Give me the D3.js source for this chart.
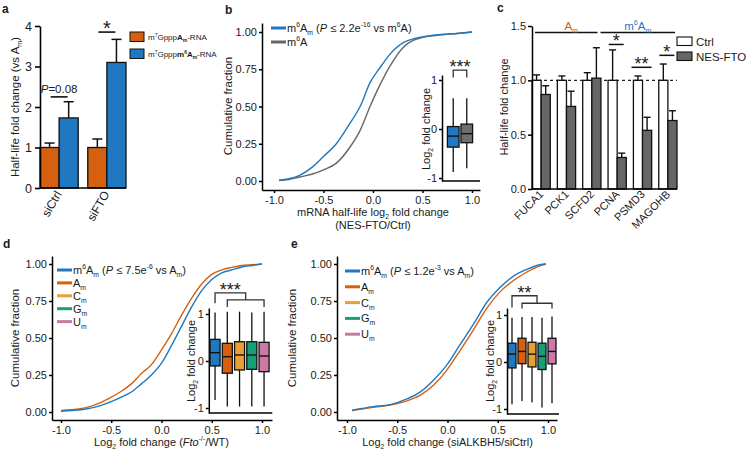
<!DOCTYPE html>
<html><head><meta charset="utf-8">
<script src="https://cdn.jsdelivr.net/npm/d3@7"></script>
<style>
body{margin:0;background:#fff}
svg{display:block}
text{font-family:"Liberation Sans",Arial,Helvetica,sans-serif;fill:#1a1a1a}
</style>
</head><body>
<svg id="fig" width="750" height="454"></svg>
<script>
// ---------------- DATA ----------------
// Panel a
const aCategories = ["siCtrl", "siFTO"];
const aAm = [1.0, 1.0];
const aAmErr = [0.11, 0.21];
const aM6Am = [1.73, 3.1];
const aM6AmErr = [0.4, 0.57];
const aTicks = [0, 1, 2, 3, 4];
const aSigLabels = ["P=0.08", "*"];
const aSigY = [2.25, 3.85];

// Panel b (cumulative fraction curves)
const bX     = [-0.95, -0.85, -0.74, -0.62, -0.5, -0.37, -0.23, -0.13, -0.03, 0.07, 0.17, 0.31, 0.41, 0.48, 0.61, 0.71, 0.85, 1.0];
const bM6Am  = [0.005, 0.015, 0.038, 0.09, 0.165, 0.25, 0.39, 0.5, 0.66, 0.76, 0.85, 0.93, 0.955, 0.965, 0.978, 0.985, 0.99, 1.0];
const bM6A   = [0.003, 0.01, 0.027, 0.045, 0.075, 0.12, 0.23, 0.34, 0.5, 0.645, 0.77, 0.9, 0.945, 0.96, 0.975, 0.982, 0.99, 1.0];
const bGroups = ["m6Am", "m6A"];
const bLo  = [-0.88, -0.8];
const bQ1  = [-0.37, -0.28];
const bMed = [-0.145, -0.095];
const bQ3  = [0.05, 0.1];
const bHi  = [0.63, 0.63];

const cdfTicksX = [-1, -0.5, 0, 0.5, 1];
const cdfTicksY = [0, 0.25, 0.5, 0.75, 1];
const insetTicks = [-1, 0, 1];

// Panel c
const cGenes = ["FUCA1", "PCK1", "SCFD2", "PCNA", "PSMD3", "MAGOHB"];
const cCtrl = [1, 1, 1, 1, 1, 1];
const cCtrlErr = [0.05, 0.04, 0.07, 0.28, 0.04, 0.15];
const cNes = [0.87, 0.76, 1.02, 0.29, 0.54, 0.63];
const cNesErr = [0.08, 0.14, 0.28, 0.04, 0.12, 0.09];
const cTicks = [0, 0.5, 1, 1.5];
const cSigGenes = ["PCNA", "PSMD3", "MAGOHB"];
const cSigLabels = ["*", "**", "*"];
const cSigY = [1.33, 1.12, 1.23];

// Panel d
const dX    = [-1.0, -0.9, -0.75, -0.6, -0.5, -0.4, -0.3, -0.2, -0.1, 0.0, 0.1, 0.2, 0.3, 0.4, 0.5, 0.6, 0.7, 0.8, 0.9, 1.0];
const dM6Am = [0.005, 0.01, 0.02, 0.045, 0.07, 0.1, 0.135, 0.19, 0.25, 0.33, 0.45, 0.58, 0.71, 0.82, 0.895, 0.94, 0.96, 0.98, 0.99, 1.0];
const dAm   = [0.01, 0.015, 0.03, 0.065, 0.1, 0.14, 0.19, 0.26, 0.32, 0.42, 0.53, 0.655, 0.77, 0.865, 0.93, 0.96, 0.977, 0.99, 0.995, 1.0];
const boxGroups = ["m6Am", "Am", "Cm", "Gm", "Um"];
const dLo  = [-0.83, -0.97, -0.97, -0.97, -0.97];
const dQ1  = [-0.106, -0.26, -0.19, -0.177, -0.227];
const dMed = [0.177, 0.092, 0.128, 0.128, 0.106];
const dQ3  = [0.46, 0.376, 0.41, 0.41, 0.397];
const dHi  = [1.03, 1.05, 1.05, 1.03, 1.05];

// Panel e
const eX    = [-0.95, -0.74, -0.57, -0.41, -0.27, -0.14, -0.01, 0.12, 0.26, 0.39, 0.52, 0.66, 0.79, 0.92, 0.98];
const eM6Am = [0.012, 0.036, 0.05, 0.087, 0.136, 0.215, 0.315, 0.45, 0.595, 0.74, 0.84, 0.92, 0.964, 0.995, 1.0];
const eAm   = [0.01, 0.031, 0.047, 0.074, 0.114, 0.18, 0.28, 0.41, 0.557, 0.70, 0.81, 0.89, 0.946, 0.987, 1.0];
const eLo  = [-0.9, -0.83, -0.86, -0.97, -0.88];
const eQ1  = [-0.126, -0.035, -0.105, -0.16, -0.04];
const eMed = [0.168, 0.225, 0.168, 0.12, 0.225];
const eQ3  = [0.40, 0.505, 0.42, 0.40, 0.505];
const eHi  = [0.94, 0.96, 0.96, 0.94, 0.97];

// ---------------- STYLE ----------------
const FONT = '"Liberation Sans", Arial, Helvetica, sans-serif';
const COL = {m6Am: "#1f78c1", Am: "#d5600f", Cm: "#e8a033", Gm: "#16a077", Um: "#cc79a7", gray: "#666666"};
const boxColors = [COL.m6Am, COL.Am, COL.Cm, COL.Gm, COL.Um];
const svg = d3.select("#fig");

const hy = f => d => d3.format(f)(d).replace("\u2212", "-");
function anchored(v0, p0, v1, p1, pa, pb) {
  const k = (p1 - p0) / (v1 - v0);
  return d3.scaleLinear().domain([v0 + (pa - p0) / k, v0 + (pb - p0) / k]).range([pa, pb]);
}
function styleAxis(sel, fs, sw) {
  sel.attr("font-family", FONT).attr("font-size", fs);
  sel.selectAll(".domain").attr("stroke", "#000").attr("stroke-width", sw);
  sel.selectAll(".tick line").attr("stroke", "#000").attr("stroke-width", sw);
  sel.selectAll(".tick text").attr("fill", "#1a1a1a");
}
function rich(g, x, y, fs, segs, anchor, transform) {
  const t = g.append("text").attr("x", x).attr("y", y).attr("font-size", fs)
    .attr("text-anchor", anchor || "start");
  if (transform) t.attr("transform", transform);
  let off = 0;
  segs.forEach(s => {
    const o = typeof s === "string" ? {t: s} : s;
    const target = o.sup ? -0.42 * fs : o.sub ? 0.28 * fs : 0;
    const ts = t.append("tspan").text(o.t).attr("dy", target - off);
    off = target;
    if (o.sup || o.sub) ts.attr("font-size", fs * 0.62);
    if (o.i) ts.attr("font-style", "italic");
    if (o.b) ts.attr("font-weight", "bold");
    ts.style("fill", o.fill || "#1a1a1a");
  });
  return t;
}
const M6AM = [{t: "m"}, {t: "6", sup: 1}, {t: "A"}, {t: "m", sub: 1}];
function panelLabel(t, x, y) {
  svg.append("text").attr("x", x).attr("y", y).attr("font-size", 12).attr("font-weight", "bold").text(t);
}
function drawBoxes(g, xs, ys, groups, lo, q1, med, q3, hi, colors) {
  const bw = xs.bandwidth();
  groups.forEach((k, i) => {
    const cx = xs(k) + bw / 2;
    g.append("line").attr("x1", cx).attr("x2", cx).attr("y1", ys(lo[i])).attr("y2", ys(hi[i]))
      .attr("stroke", "#111").attr("stroke-width", 1.3);
    g.append("rect").attr("x", xs(k)).attr("width", bw).attr("y", ys(q3[i]))
      .attr("height", ys(q1[i]) - ys(q3[i])).attr("fill", colors[i]).attr("stroke", "#111").attr("stroke-width", 1.3);
    g.append("line").attr("x1", xs(k)).attr("x2", xs(k) + bw).attr("y1", ys(med[i])).attr("y2", ys(med[i]))
      .attr("stroke", "#111").attr("stroke-width", 1.4);
  });
}
function cdfAxes(g, xs, ys, xAxisY, yAxisX) {
  g.append("g").attr("transform", `translate(0,${xAxisY})`)
    .call(d3.axisBottom(xs).tickValues(cdfTicksX).tickFormat(hy(".1f")).tickSize(3).tickSizeOuter(0).tickPadding(3))
    .call(s => styleAxis(s, 11, 1.5));
  g.append("g").attr("transform", `translate(${yAxisX},0)`)
    .call(d3.axisLeft(ys).tickValues(cdfTicksY).tickFormat(hy(".2f")).tickSize(3).tickSizeOuter(0).tickPadding(2))
    .call(s => styleAxis(s, 11, 1.5));
}
function insetAxes(g, xs, ys, fs) {
  const r = xs.range();
  g.append("g").attr("transform", `translate(${r[0]},0)`)
    .call(d3.axisLeft(ys).tickValues(insetTicks).tickFormat(hy("d")).tickSize(3).tickSizeOuter(0).tickPadding(2))
    .call(s => styleAxis(s, fs, 1.5));
  const yb = ys.range()[0];
  g.append("line").attr("x1", r[0]).attr("x2", r[1] + 2).attr("y1", yb).attr("y2", yb)
    .attr("stroke", "#000").attr("stroke-width", 1.5);
}
function bracket2(g, xs, ys, a, b, level, legBottom, label) {
  const x1 = xs(a) + xs.bandwidth() / 2, x2 = xs(b) + xs.bandwidth() / 2;
  g.append("path").attr("d", `M${x1},${ys(legBottom)}V${ys(level)}H${x2}V${ys(legBottom)}`)
    .attr("fill", "none").attr("stroke", "#333").attr("stroke-width", 1.3);
  g.append("text").attr("x", (x1 + x2) / 2).attr("y", ys(level) + 3).attr("text-anchor", "middle")
    .attr("font-size", 18).text(label);
}
function bracketNested(g, xs, ys, first, from, to, l1, leg1, l2, leg2, label) {
  const c = k => xs(k) + xs.bandwidth() / 2;
  const xm = (c(from) + c(to)) / 2;
  g.append("path").attr("d", `M${c(from)},${ys(leg2)}V${ys(l2)}H${c(to)}V${ys(leg2)}`)
    .attr("fill", "none").attr("stroke", "#333").attr("stroke-width", 1.3);
  g.append("path").attr("d", `M${c(first)},${ys(leg1)}V${ys(l1)}H${xm}V${ys(l2)}`)
    .attr("fill", "none").attr("stroke", "#333").attr("stroke-width", 1.3);
  g.append("text").attr("x", (c(first) + xm) / 2).attr("y", ys(l1) + 3).attr("text-anchor", "middle")
    .attr("font-size", 18).text(label);
}

// ---------------- PANEL A ----------------
(function () {
  const g = svg.append("g");
  panelLabel("a", 2, 13);
  const ys = d3.scaleLinear().domain([0, 4]).range([188, 26]);
  const xs = d3.scaleBand().domain(aCategories).range([40, 126]).paddingInner(0.2);
  const bw = xs.bandwidth() / 2;
  const series = [{v: aAm, e: aAmErr, c: COL.Am, o: 0}, {v: aM6Am, e: aM6AmErr, c: COL.m6Am, o: 1}];
  series.forEach(s => {
    aCategories.forEach((cat, i) => {
      const x = xs(cat) + s.o * bw, cx = x + bw / 2;
      const top = ys(s.v[i] + s.e[i]);
      g.append("line").attr("x1", cx).attr("x2", cx).attr("y1", ys(s.v[i])).attr("y2", top).attr("stroke", "#111").attr("stroke-width", 1.5);
      g.append("line").attr("x1", cx - 5).attr("x2", cx + 5).attr("y1", top).attr("y2", top).attr("stroke", "#111").attr("stroke-width", 1.5);
      g.append("rect").attr("x", x).attr("width", bw).attr("y", ys(s.v[i])).attr("height", ys(0) - ys(s.v[i]))
        .attr("fill", s.c).attr("stroke", "#111").attr("stroke-width", 1.3);
    });
  });
  g.append("g").attr("transform", "translate(40,0)")
    .call(d3.axisLeft(ys).tickValues(aTicks).tickFormat(d3.format("d")).tickSize(5).tickSizeOuter(0).tickPadding(3))
    .call(s => styleAxis(s, 12.5, 1.6));
  g.append("line").attr("x1", 40).attr("x2", 126).attr("y1", 188).attr("y2", 188).attr("stroke", "#000").attr("stroke-width", 1.6);
  aCategories.forEach(cat => {
    g.append("text").attr("text-anchor", "end").attr("font-size", 12)
      .attr("transform", `translate(${xs(cat) + bw + 3},194) rotate(-60)`).text(cat);
  });
  rich(g, 0, 0, 11.5, ["Half-life fold change (vs A", {t: "m", sub: 1}, ")"], "middle", "translate(19,107) rotate(-90)");
  // significance
  aCategories.forEach((cat, i) => {
    const cx = xs(cat) + bw, y = ys(aSigY[i]);
    g.append("line").attr("x1", cx - 8.5).attr("x2", cx + 8.5).attr("y1", y).attr("y2", y).attr("stroke", "#111").attr("stroke-width", 1.6);
  });
  rich(g, xs(aCategories[0]) + bw, ys(aSigY[0]) - 4, 11.5, [{t: "P", i: 1}, "=0.08"], "middle");
  g.append("text").attr("x", xs(aCategories[1]) + bw).attr("y", ys(aSigY[1]) + 3).attr("text-anchor", "middle").attr("font-size", 20).text(aSigLabels[1]);
  // legend
  g.append("rect").attr("x", 130).attr("y", 32).attr("width", 14).attr("height", 9.5).attr("fill", COL.Am).attr("stroke", "#111").attr("stroke-width", 1);
  g.append("rect").attr("x", 130).attr("y", 49).attr("width", 14).attr("height", 9.5).attr("fill", COL.m6Am).attr("stroke", "#111").attr("stroke-width", 1);
  rich(g, 148, 40, 8, ["m", {t: "7", sup: 1}, "Gppp", {t: "A", b: 1}, {t: "m", sub: 1, b: 1}, "-RNA"]);
  rich(g, 148, 57, 8, ["m", {t: "7", sup: 1}, "Gppp", {t: "m", b: 1}, {t: "6", sup: 1, b: 1}, {t: "A", b: 1}, {t: "m", sub: 1, b: 1}, "-RNA"]);
})();

// ---------------- PANEL B ----------------
(function () {
  const g = svg.append("g");
  panelLabel("b", 225, 14);
  const xs = anchored(-1, 274, 1, 472, 262, 480);
  const ys = anchored(0, 181, 1, 32, 190, 23);
  cdfAxes(g, xs, ys, 190, 262);
  const line = d3.line().x((d, i) => xs(bX[i])).y(d => ys(d)).curve(d3.curveMonotoneX);
  g.append("path").attr("d", line(bM6A)).attr("fill", "none").attr("stroke", COL.gray).attr("stroke-width", 1.4);
  g.append("path").attr("d", line(bM6Am)).attr("fill", "none").attr("stroke", COL.m6Am).attr("stroke-width", 1.4);
  // legend
  g.append("line").attr("x1", 271).attr("x2", 286).attr("y1", 28).attr("y2", 28).attr("stroke", COL.m6Am).attr("stroke-width", 3);
  g.append("line").attr("x1", 271).attr("x2", 286).attr("y1", 42).attr("y2", 42).attr("stroke", COL.gray).attr("stroke-width", 3);
  rich(g, 287, 32, 11, [...M6AM, " (", {t: "P", i: 1}, " \u2264 2.2e", {t: "-16", sup: 1}, " vs m", {t: "6", sup: 1}, "A)"]);
  rich(g, 287, 46, 11, ["m", {t: "6", sup: 1}, "A"]);
  // titles
  rich(g, xs(0), 216, 11, ["mRNA half-life log", {t: "2", sub: 1}, " fold change"], "middle");
  g.append("text").attr("x", xs(0)).attr("y", 229).attr("text-anchor", "middle").attr("font-size", 11).text("(NES-FTO/Ctrl)");
  g.append("text").attr("transform", "translate(232,106) rotate(-90)").attr("text-anchor", "middle").attr("font-size", 11.5).text("Cumulative fraction");
  // inset
  const yi = anchored(0, 129, 1, 80, 181, 75);
  const xi = d3.scaleBand().domain(bGroups).range([442, 478]).paddingInner(0.14).paddingOuter(0.4);
  insetAxes(g, xi, yi, 11);
  drawBoxes(g, xi, yi, bGroups, bLo, bQ1, bMed, bQ3, bHi, [COL.m6Am, "#6e6e6e"]);
  bracket2(g, xi, yi, bGroups[0], bGroups[1], 1.2, 1.05, "***");
  rich(g, 0, 0, 11, ["Log", {t: "2", sub: 1}, " fold change"], "middle", "translate(430,129) rotate(-90)");
})();

// ---------------- PANEL C ----------------
(function () {
  const g = svg.append("g");
  panelLabel("c", 497, 12);
  const ys = d3.scaleLinear().domain([0, 1.5]).range([189, 26]);
  const xs = d3.scaleBand().domain(cGenes).range([532, 677]).paddingInner(0.28);
  const bw = xs.bandwidth() / 2;
  g.append("line").attr("x1", 532).attr("x2", 677).attr("y1", ys(1)).attr("y2", ys(1))
    .attr("stroke", "#222").attr("stroke-width", 1.2).attr("stroke-dasharray", "3,3");
  const series = [{v: cCtrl, e: cCtrlErr, c: "#ffffff", o: 0}, {v: cNes, e: cNesErr, c: "#666666", o: 1}];
  series.forEach(s => {
    cGenes.forEach((gn, i) => {
      const x = xs(gn) + s.o * bw, cx = x + bw / 2;
      const top = ys(s.v[i] + s.e[i]);
      g.append("line").attr("x1", cx).attr("x2", cx).attr("y1", ys(s.v[i])).attr("y2", top).attr("stroke", "#111").attr("stroke-width", 1.4);
      g.append("line").attr("x1", cx - 3.5).attr("x2", cx + 3.5).attr("y1", top).attr("y2", top).attr("stroke", "#111").attr("stroke-width", 1.4);
      g.append("rect").attr("x", x).attr("width", bw).attr("y", ys(s.v[i])).attr("height", ys(0) - ys(s.v[i]))
        .attr("fill", s.c).attr("stroke", "#111").attr("stroke-width", 1.3);
    });
  });
  g.append("g").attr("transform", "translate(532,0)")
    .call(d3.axisLeft(ys).tickValues(cTicks).tickFormat(d3.format(".1f")).tickSize(4).tickSizeOuter(0).tickPadding(2))
    .call(s => styleAxis(s, 11, 1.5));
  g.append("line").attr("x1", 532).attr("x2", 677).attr("y1", 189).attr("y2", 189).attr("stroke", "#000").attr("stroke-width", 1.5);
  cGenes.forEach(gn => {
    g.append("text").attr("text-anchor", "end").attr("font-size", 11)
      .attr("transform", `translate(${xs(gn) + bw + 3},195) rotate(-45)`).text(gn);
  });
  g.append("text").attr("transform", "translate(508,107) rotate(-90)").attr("text-anchor", "middle").attr("font-size", 11).text("Half-life fold change");
  // group bars
  const mid = (xs("SCFD2") + 2 * bw + xs("PCNA")) / 2;
  const l1 = [xs("FUCA1") + 3, mid - 7], l2 = [mid - 4, xs("MAGOHB") + 2 * bw - 2];
  const gy = ys(1.44);
  [l1, l2].forEach(l => g.append("line").attr("x1", l[0]).attr("x2", l[1]).attr("y1", gy).attr("y2", gy).attr("stroke", "#111").attr("stroke-width", 1.4));
  rich(g, (l1[0] + l1[1]) / 2 + 5, gy - 3, 11.5, [{t: "A", fill: COL.Am}, {t: "m", sub: 1, fill: COL.Am}], "middle");
  rich(g, (l2[0] + l2[1]) / 2, gy - 3, 11.5, [{t: "m", fill: COL.m6Am}, {t: "6", sup: 1, fill: COL.m6Am}, {t: "A", fill: COL.m6Am}, {t: "m", sub: 1, fill: COL.m6Am}], "middle");
  // significance
  cSigGenes.forEach((gn, i) => {
    const cx = xs(gn) + bw - 1, y = ys(cSigY[i]);
    const hw = cSigLabels[i].length > 1 ? 10 : 7.5;
    g.append("line").attr("x1", cx - hw).attr("x2", cx + hw).attr("y1", y).attr("y2", y).attr("stroke", "#111").attr("stroke-width", 1.5);
    g.append("text").attr("x", cx).attr("y", y + 3).attr("text-anchor", "middle").attr("font-size", 18).text(cSigLabels[i]);
  });
  // legend
  g.append("rect").attr("x", 677).attr("y", 37).attr("width", 15).attr("height", 8.5).attr("fill", "#fff").attr("stroke", "#111").attr("stroke-width", 1.1);
  g.append("rect").attr("x", 677).attr("y", 52).attr("width", 15).attr("height", 8.5).attr("fill", "#666666").attr("stroke", "#111").attr("stroke-width", 1.1);
  g.append("text").attr("x", 696).attr("y", 45.5).attr("font-size", 11.5).text("Ctrl");
  g.append("text").attr("x", 696).attr("y", 60.5).attr("font-size", 11.5).text("NES-FTO");
})();

// ---------------- PANELS D & E ----------------
function cdfPanel(opt) {
  const g = svg.append("g");
  panelLabel(opt.label, opt.lx, 248);
  const xs = anchored(-1, opt.xm1, 1, opt.xp1, opt.yAxisX, opt.xEnd);
  const ys = anchored(0, 412, 1, 264, 420, 256);
  cdfAxes(g, xs, ys, 420, opt.yAxisX);
  const line = d3.line().x((d, i) => xs(opt.x[i])).y(d => ys(d)).curve(d3.curveMonotoneX);
  opt.order.forEach(k => {
    g.append("path").attr("d", line(opt.series[k])).attr("fill", "none").attr("stroke", COL[k]).attr("stroke-width", 1.4);
  });
  // legend
  const labels = [
    [...M6AM, " (", {t: "P", i: 1}, " \u2264 " + opt.p, {t: opt.pexp, sup: 1}, " vs A", {t: "m", sub: 1}, ")"],
    ["A", {t: "m", sub: 1}], ["C", {t: "m", sub: 1}], ["G", {t: "m", sub: 1}], ["U", {t: "m", sub: 1}]
  ];
  boxGroups.forEach((k, i) => {
    const y = opt.legY + i * opt.legStep;
    g.append("line").attr("x1", opt.legX).attr("x2", opt.legX + 15).attr("y1", y).attr("y2", y).attr("stroke", COL[k]).attr("stroke-width", 3);
    rich(g, opt.legX + 16, y + 4, 11, labels[i]);
  });
  rich(g, xs(0), 446, 11, opt.xtitle, "middle");
  g.append("text").attr("transform", `translate(${opt.ytx},338) rotate(-90)`).attr("text-anchor", "middle").attr("font-size", 11.5).text("Cumulative fraction");
  // inset
  const yi = anchored(0, opt.i0, 1, opt.i1, opt.iBottom, 308);
  const xi = d3.scaleBand().domain(boxGroups).range(opt.iRange).paddingInner(opt.pin).paddingOuter(0.1);
  insetAxes(g, xi, yi, 11);
  drawBoxes(g, xi, yi, boxGroups, opt.box[0], opt.box[1], opt.box[2], opt.box[3], opt.box[4], boxColors);
  bracketNested(g, xi, yi, "m6Am", "Am", "Um", opt.br[0], opt.br[1], opt.br[2], opt.br[3], opt.stars);
  rich(g, 0, 0, 11, ["Log", {t: "2", sub: 1}, " fold change"], "middle", `translate(${opt.itx},361) rotate(-90)`);
}

cdfPanel({
  label: "d", lx: 3, xm1: 61, xp1: 262, yAxisX: 52, xEnd: 272, x: dX,
  series: {m6Am: dM6Am, Am: dAm}, order: ["Am", "m6Am"],
  legX: 57, legY: 270, legStep: 12.9, p: "7.5e", pexp: "-6",
  xtitle: ["Log", {t: "2", sub: 1}, " fold change (", {t: "Fto", i: 1}, {t: "-/-", sup: 1}, "/WT)"],
  ytx: 19, i0: 361, i1: 314, iBottom: 413, iRange: [208.8, 270.3], pin: 0.18,
  box: [dLo, dQ1, dMed, dQ3, dHi], br: [1.45, 1.23, 1.3, 1.15], stars: "***", itx: 195
});
cdfPanel({
  label: "e", lx: 291, xm1: 347, xp1: 548, yAxisX: 337, xEnd: 557, x: eX,
  series: {m6Am: eM6Am, Am: eAm}, order: ["Am", "m6Am"],
  legX: 345, legY: 271, legStep: 15.8, p: "1.2e", pexp: "-3",
  xtitle: ["Log", {t: "2", sub: 1}, " fold change (siALKBH5/siCtrl)"],
  ytx: 296, i0: 362, i1: 315, iBottom: 414, iRange: [507, 557], pin: 0.2,
  box: [eLo, eQ1, eMed, eQ3, eHi], br: [1.41, 1.16, 1.25, 1.14], stars: "**", itx: 494
});
</script>
</body></html>
